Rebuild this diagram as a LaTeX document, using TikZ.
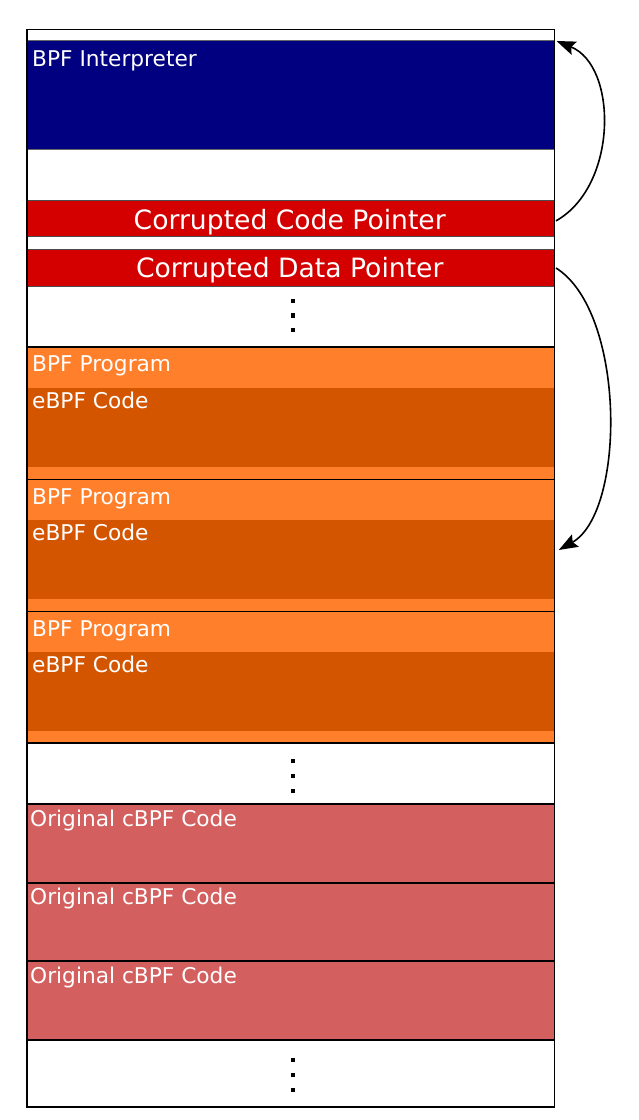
\documentclass[tikz,border=0pt]{standalone}
\usepackage{fontspec}
\setmainfont{DejaVu Sans}
\usetikzlibrary{calc,arrows.meta}
\definecolor{navyblk}{RGB}{0,0,128}
\definecolor{ptrred}{RGB}{212,0,0}
\definecolor{progor}{RGB}{255,127,42}
\definecolor{codeor}{RGB}{212,85,0}
\definecolor{cbpfred}{RGB}{211,95,95}
\tikzset{
  blk/.style={rectangle, inner sep=0pt, outer sep=0pt, minimum width=527.5pt, anchor=north west},
  lbl/.style={inner sep=0pt, anchor=base west, text=white, font=\fontsize{21.7}{25}\selectfont},
  ptrlbl/.style={inner sep=0pt, anchor=base, text=white, font=\fontsize{26.6}{31}\selectfont},
  dotsq/.style={rectangle, fill=black, inner sep=0pt, minimum size=4.6pt},
  ptrarrow/.style={line width=1.6pt, -{Stealth[length=19pt,width=14pt,inset=3pt]}}
}
\begin{document}
\begin{tikzpicture}[x=1pt,y=-1pt]
\useasboundingbox (0,0) rectangle (638,1120);
% outer memory column
\node[blk, draw=black, line width=1.5pt, fill=white, minimum height=1077.5pt] (mem) at (27,29.5) {};
% interpreter
\node[blk, fill=navyblk, draw=black!60, line width=1pt, minimum height=108.3pt] (interp) at (27,40.7) {};
\node[lbl] (tinterp) at ($(interp.north west)+(5,25.3)$) {BPF Interpreter};
% pointers
\node[blk, fill=ptrred, draw=black!70, line width=1pt, minimum height=36.7pt] (cptr) at (27,200) {};
\node[ptrlbl] (tcptr) at ($(cptr.south)+(-1,-7)$) {Corrupted Code Pointer};
\node[blk, fill=ptrred, draw=black!70, line width=1pt, minimum height=37pt] (dptr) at (27,249) {};
\node[ptrlbl] (tdptr) at ($(dptr.south)+(-1,-8.5)$) {Corrupted Data Pointer};
% dots 1
\node[dotsq] (da1) at (293,301) {};
\node[dotsq] (da2) at (293,315.5) {};
\node[dotsq] (da3) at (293,330) {};
% BPF programs
\node[blk, fill=progor, draw=black, line width=1.2pt, minimum height=132.5pt] (p1) at (27,347) {};
\node[blk, fill=codeor, minimum height=79pt, minimum width=526pt] (e1) at (27.75,388) {};
\node[lbl] (tp1) at ($(p1.north west)+(5,24.5)$) {BPF Program};
\node[lbl] (te1) at ($(e1.north west)+(4.25,20.3)$) {eBPF Code};
\node[blk, fill=progor, draw=black, line width=1.2pt, minimum height=132pt] (p2) at (27,479.5) {};
\node[blk, fill=codeor, minimum height=79pt, minimum width=526pt] (e2) at (27.75,520) {};
\node[lbl] (tp2) at ($(p2.north west)+(5,24.5)$) {BPF Program};
\node[lbl] (te2) at ($(e2.north west)+(4.25,20.3)$) {eBPF Code};
\node[blk, fill=progor, draw=black, line width=1.2pt, minimum height=131.5pt] (p3) at (27,611.5) {};
\node[blk, fill=codeor, minimum height=79pt, minimum width=526pt] (e3) at (27.75,652) {};
\node[lbl] (tp3) at ($(p3.north west)+(5,24.5)$) {BPF Program};
\node[lbl] (te3) at ($(e3.north west)+(4.25,20.3)$) {eBPF Code};
% dots 2
\node[dotsq] (db1) at (293,761) {};
\node[dotsq] (db2) at (293,776) {};
\node[dotsq] (db3) at (293,791) {};
% original cBPF code
\node[blk, fill=cbpfred, draw=black, line width=1.5pt, minimum height=79pt] (c1) at (27,804) {};
\node[lbl] (tc1) at ($(c1.north west)+(3,22)$) {Original cBPF Code};
\node[blk, fill=cbpfred, draw=black, line width=1.5pt, minimum height=78pt] (c2) at (27,883) {};
\node[lbl] (tc2) at ($(c2.north west)+(3,21.5)$) {Original cBPF Code};
\node[blk, fill=cbpfred, draw=black, line width=1.5pt, minimum height=79pt] (c3) at (27,961) {};
\node[lbl] (tc3) at ($(c3.north west)+(3,22)$) {Original cBPF Code};
% dots 3
\node[dotsq] (dc1) at (293,1060) {};
\node[dotsq] (dc2) at (293,1075) {};
\node[dotsq] (dc3) at (293,1090) {};
% redraw outer border on top
\draw[line width=1.5pt] (mem.north west) rectangle (mem.south east);
% arrows
\draw[ptrarrow] ($(cptr.east)+(1.5,2.5)$) .. controls (618,186) and (618,66) .. ($(interp.north east)+(2,0.3)$);
\draw[ptrarrow] ($(dptr.east)+(1.5,0.5)$) .. controls (626,312) and (626,512) .. ($(e2.east)+(5,-9.5)$);
\end{tikzpicture}
\end{document}
